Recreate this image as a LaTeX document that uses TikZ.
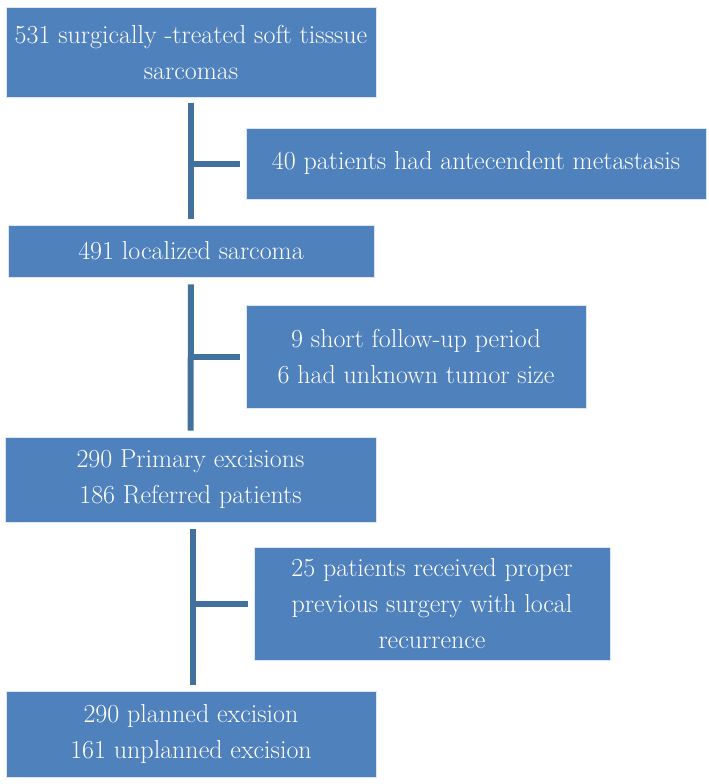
\documentclass[tikz,border=0pt]{standalone}
\usepackage{tikz}
\usetikzlibrary{positioning}
\definecolor{boxblue}{HTML}{4F81BD}
\definecolor{lineblue}{HTML}{41719C}
\begin{document}
\begin{tikzpicture}[x=1pt,y=-1pt,
  box/.style={fill=boxblue,draw=white!80!boxblue,line width=0.8pt,text=white,align=center,inner sep=0pt,
    font=\fontsize{26}{36}\selectfont},
  trunk/.style={draw=lineblue,line width=6pt}]

\useasboundingbox (0,0) rectangle (709,784);
\node[box,minimum width=370,minimum height=90] (top) at (191,52) {531 surgically -treated soft tisssue\\sarcomas};
\node[box,minimum width=460,minimum height=71] (meta) at (476,163.5) {40 patients had antecendent metastasis};
\node[box,minimum width=366,minimum height=52] (local) at (191,251) {491 localized sarcoma};
\node[box,minimum width=340,minimum height=103] (follow) at (416,356.5) {9 short follow-up period\\6 had unknown tumor size};
\node[box,minimum width=371,minimum height=85] (primary) at (190.5,479.5) {290 Primary excisions\\186 Referred patients};
\node[box,minimum width=356,minimum height=113] (proper) at (432,603.5) {25 patients received proper\\previous surgery with local\\recurrence};
\node[box,minimum width=370,minimum height=86] (planned) at (191,734) {290 planned excision\\161 unplanned excision};

\draw[trunk,shorten <=6pt,shorten >=6pt] (top.south) -- (local.north);
\draw[trunk,shorten >=6pt] (top.south |- meta.west) -- (meta.west);
\draw[trunk,shorten <=7pt,shorten >=6pt] (local.south) -- (primary.north);
\draw[trunk,shorten >=6pt] (local.south |- follow.west) -- (follow.west);
\draw[trunk,shorten <=7pt,shorten >=6pt] ([xshift=2.5pt]primary.south) -- ([xshift=2pt]planned.north);
\draw[trunk,shorten >=6pt] ([xshift=2.5pt]primary.south |- proper.west) -- (proper.west);
\end{tikzpicture}
\end{document}
